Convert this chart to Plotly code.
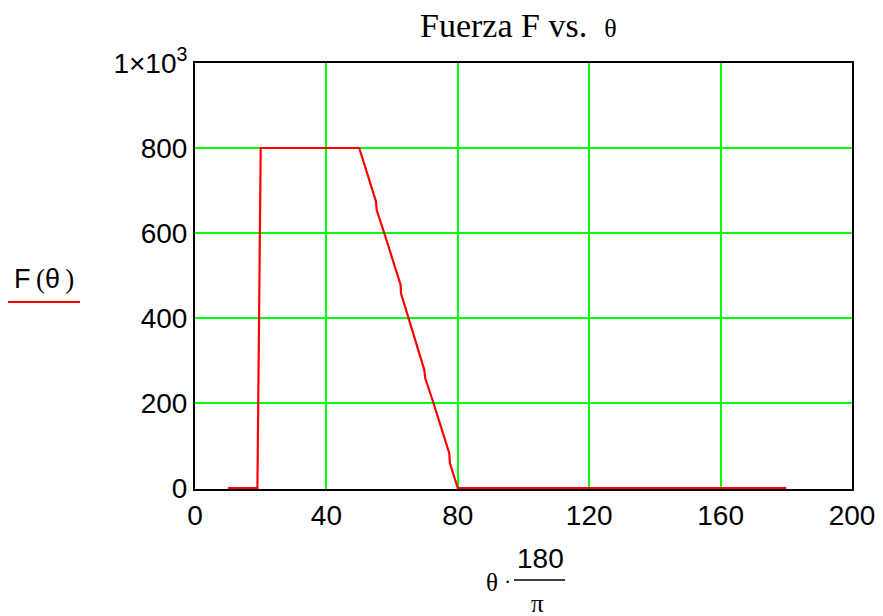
import plotly.graph_objects as go

# Data (theta in degrees, F in units)
theta_deg = [10, 19, 20, 50, 55.1, 55.3, 57.6, 62.6, 62.7, 65.0, 69.8, 70.1, 72.6, 77.4, 77.6, 79.7, 80, 180]
force = [0, 0, 800, 800, 674, 654, 600, 478, 458, 400, 278, 258, 200, 82, 58, 7, 0, 0]

x_ticks = [0, 40, 80, 120, 160, 200]
x_ticklabels = ["0", "40", "80", "120", "160", "200"]
y_ticks = [0, 200, 400, 600, 800, 1000]
y_ticklabels = ["0", "200", "400", "600", "800", "1×10<sup>3</sup>"]

title_text = "Fuerza F vs.  <span style='font-size:26px'>θ</span>"

fig = go.Figure()
fig.add_trace(go.Scatter(
    x=theta_deg, y=force, mode="lines",
    line=dict(color="#ff0000", width=2.2),
    showlegend=False, hoverinfo="skip",
))

sans = "Liberation Sans, Arial, sans-serif"
serif = "Liberation Serif, Times New Roman, serif"

L, R, T, B = 195, 852, 63, 489
y0_pad = 1000 * 1.0 / (488 - 63)  # one pixel below zero so the trace at 0 is visible

fig.update_layout(
    width=883, height=616,
    margin=dict(l=L, r=883 - R, t=T, b=616 - B, autoexpand=False),
    paper_bgcolor="white", plot_bgcolor="white",
    font=dict(family=sans, size=28, color="black"),
    xaxis=dict(
        range=[0, 200], tickvals=x_ticks, ticktext=x_ticklabels,
        showgrid=True, gridcolor="#00ff00", gridwidth=2,
        showline=True, linecolor="black", linewidth=2, mirror=True,
        zeroline=False, ticks="", ticklen=0, automargin=False,
        tickfont=dict(family=sans, size=28, color="black"),
    ),
    yaxis=dict(
        range=[-y0_pad, 1000], tickvals=y_ticks, ticktext=y_ticklabels,
        showgrid=True, gridcolor="#00ff00", gridwidth=2,
        showline=True, linecolor="black", linewidth=2, mirror=True,
        zeroline=False, ticks="", ticklen=0, automargin=False,
        tickfont=dict(family=sans, size=28, color="black"),
    ),
)


def px(xp):
    return (xp - L) / (R - L)


def py(yp):
    return (B - yp) / (B - T)


annotations = [
    # title
    dict(text=title_text, x=518, y=25, font=dict(family=serif, size=34)),
    # y-axis label
    dict(text="F<span style='font-family:Liberation Serif'>&#8201;(</span>θ<span style='font-family:Liberation Serif'>&#8201;)</span>",
         x=44, y=279, font=dict(family=sans, size=27)),
    # x-axis label pieces
    dict(text="θ", x=492, y=582, font=dict(family=serif, size=25)),
    dict(text="·", x=507, y=580, font=dict(family=sans, size=22)),
    dict(text="180", x=540, y=558, font=dict(family=sans, size=28)),
    dict(text="π", x=537, y=603, font=dict(family=serif, size=25)),
]
for a in annotations:
    fig.add_annotation(
        text=a["text"], x=px(a["x"]), y=py(a["y"]),
        xref="paper", yref="paper", showarrow=False,
        xanchor="center", yanchor="middle", font=a["font"],
    )

fig.add_shape(type="line", xref="paper", yref="paper",
              x0=px(514), x1=px(565), y0=py(580), y1=py(580),
              line=dict(color="black", width=1.5))
fig.add_shape(type="line", xref="paper", yref="paper",
              x0=px(8), x1=px(80), y0=py(302), y1=py(302),
              line=dict(color="#ff0000", width=2))

fig.write_html(
    "out.html",
    config={"displayModeBar": False},
    post_script="document.body.style.margin='0';document.body.style.overflow='hidden';",
)
